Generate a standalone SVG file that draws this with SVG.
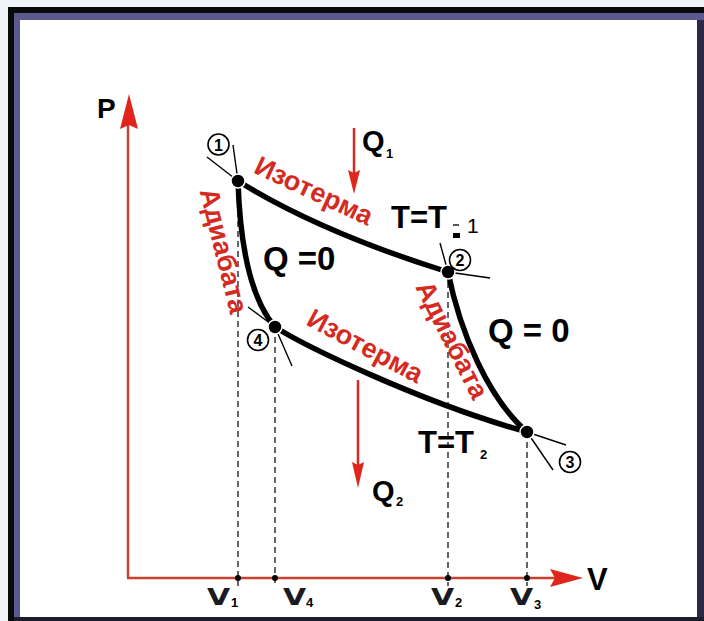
<svg xmlns="http://www.w3.org/2000/svg" width="704" height="621" viewBox="0 0 704 621">
<style>
.ax{stroke:#c8402f;stroke-width:2.5;fill:none}
.ah{fill:#e0261c}
.thick{stroke:#000;stroke-width:5.5;fill:none;stroke-linecap:round}
.thin{stroke:#000;stroke-width:1.4;fill:none}
.dash{stroke:#000;stroke-width:1.2;stroke-dasharray:6 4;fill:none}
.qarr{stroke:#d42a22;stroke-width:2.5;fill:none}
.dot{fill:#000;stroke:#fff;stroke-width:1.5}
.tick{fill:#000}
.ring{fill:#fff;stroke:#000;stroke-width:1.6}
.num{font-family:"Liberation Sans",Arial,sans-serif;font-size:16px;font-weight:bold;fill:#000;text-anchor:middle}
.red{font-family:"Liberation Sans",Arial,sans-serif;font-weight:bold;font-size:27px;fill:#d42a22;text-anchor:middle}
.blk{font-family:"Liberation Sans",Arial,sans-serif;font-weight:bold;fill:#000}
.vl{font-family:"DejaVu Sans",sans-serif;font-weight:bold;font-size:23px;fill:#1a1a22}
.sub{font-family:"Liberation Sans",Arial,sans-serif;font-weight:bold;font-size:13px;fill:#000}
</style>
<rect x="0" y="0" width="704" height="621" fill="#f1f4f7"/>
<rect x="8" y="7" width="696" height="614" fill="#0a0a0a"/>
<rect x="14" y="13" width="690" height="608" fill="#5b5a8e"/>
<rect x="697" y="20" width="7" height="601" fill="#2a2a46"/>
<rect x="14" y="617" width="690" height="4" fill="#1c1c2c"/>
<rect x="20" y="20" width="677" height="597" fill="#ffffff"/>

<g id="connectors">
  <line class="ax" x1="128" y1="578" x2="128" y2="122"/>
  <path class="ah" d="M129,94 L138,129 L129,125 L120,129 Z"/>
  <line class="ax" x1="127" y1="578" x2="558" y2="578"/>
  <path class="ah" d="M583,578 L550,569 L555,578 L550,587 Z"/>
  <line class="dash" x1="238" y1="181" x2="238" y2="586"/>
  <line class="dash" x1="275" y1="327" x2="275" y2="586"/>
  <line class="dash" x1="448" y1="272" x2="448" y2="586"/>
  <line class="dash" x1="527" y1="432" x2="527" y2="586"/>
  <path class="thick" d="M238,181 Q320,232 448,272"/>
  <path class="thick" d="M238,181 C240,245 250,298 275,327"/>
  <path class="thick" d="M448,272 C460,332 488,398 527,432"/>
  <path class="thick" d="M275,327 C305,346 420,402 527,432"/>
  <line class="thin" x1="207" y1="157" x2="238" y2="181"/>
  <line class="thin" x1="233" y1="145" x2="238" y2="181"/>
  <line class="thin" x1="440" y1="243" x2="448" y2="272"/>
  <line class="thin" x1="448" y1="272" x2="490" y2="278"/>
  <line class="thin" x1="527" y1="432" x2="566" y2="445"/>
  <line class="thin" x1="527" y1="432" x2="553" y2="470"/>
  <line class="thin" x1="248" y1="307" x2="275" y2="327"/>
  <line class="thin" x1="275" y1="327" x2="292" y2="366"/>
  <line class="qarr" x1="354" y1="128" x2="354" y2="176"/>
  <path class="ah" d="M354,194 L348,170 L354,173 L360,170 Z"/>
  <line class="qarr" x1="358" y1="380" x2="358" y2="468"/>
  <path class="ah" d="M358,488 L352,462 L358,465 L364,462 Z"/>
  <circle class="tick" cx="238" cy="578" r="3"/>
  <circle class="tick" cx="275" cy="578" r="3"/>
  <circle class="tick" cx="448" cy="578" r="3"/>
  <circle class="tick" cx="527" cy="578" r="3"/>
</g>

<g id="n1">
  <circle class="dot" cx="238" cy="181" r="7"/>
  <circle class="ring" cx="218.5" cy="144.5" r="10.5"/>
  <text class="num" x="218.5" y="150.5">1</text>
</g>
<g id="n2">
  <circle class="dot" cx="448" cy="272" r="7"/>
  <circle class="ring" cx="460" cy="260" r="10.5"/>
  <text class="num" x="460" y="266">2</text>
</g>
<g id="n3">
  <circle class="dot" cx="527" cy="432" r="7"/>
  <circle class="ring" cx="570" cy="462" r="10.5"/>
  <text class="num" x="570" y="468">3</text>
</g>
<g id="n4">
  <circle class="dot" cx="275" cy="327" r="7"/>
  <circle class="ring" cx="258" cy="340" r="10.5"/>
  <text class="num" x="258" y="346">4</text>
</g>

<g id="labels">
  <text class="blk" x="97" y="118" font-size="28">P</text>
  <text class="blk" x="587" y="590" font-size="31">V</text>
  <text class="red" transform="translate(310,199) rotate(25)">Изотерма</text>
  <text class="red" transform="translate(361,354) rotate(28)">Изотерма</text>
  <text class="red" transform="translate(215,253) rotate(76)" font-size="28">Адиабата</text>
  <text class="red" transform="translate(444,344) rotate(63)" font-size="28">Адиабата</text>
  <text class="blk" x="362" y="151" font-size="29">Q</text>
  <text class="sub" x="386" y="158">1</text>
  <text class="blk" x="372" y="501" font-size="29">Q</text>
  <text class="sub" x="396" y="506">2</text>
  <text class="blk" x="263" y="270" font-size="33">Q =0</text>
  <text class="blk" x="488" y="342" font-size="33">Q = 0</text>
  <text class="blk" x="391" y="228" font-size="31">T=T</text>
  <rect x="453" y="224" width="6" height="2" fill="#555"/>
  <rect x="453" y="233" width="7" height="5" fill="#000"/>
  <text x="467" y="233" font-family="Liberation Sans,Arial,sans-serif" font-size="21" fill="#000">1</text>
  <text class="blk" x="418" y="453" font-size="31">T=T</text>
  <text class="sub" x="480" y="459">2</text>
  <text class="vl" transform="translate(207,605) scale(1.3,1)">V</text>
  <text class="sub" x="231" y="607" font-size="11">1</text>
  <text class="vl" transform="translate(283,605) scale(1.3,1)">V</text>
  <text class="sub" x="306" y="607" font-size="11">4</text>
  <text class="vl" transform="translate(431,605) scale(1.3,1)">V</text>
  <text class="sub" x="455" y="607" font-size="11">2</text>
  <text class="vl" transform="translate(510,605) scale(1.3,1)">V</text>
  <text class="sub" x="534" y="609" font-size="11">3</text>
</g>
</svg>
